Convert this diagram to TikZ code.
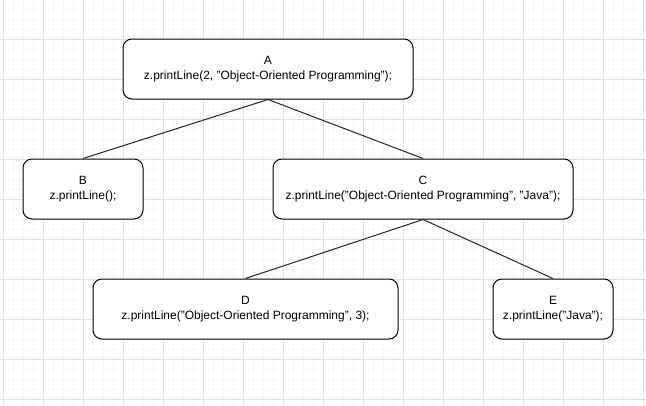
\documentclass[tikz,border=0pt]{standalone}
\usepackage{fontspec}
\setmainfont{Liberation Sans}
\usetikzlibrary{positioning}
\definecolor{GridMinor}{RGB}{246, 246, 246}
\definecolor{GridMajor}{RGB}{226, 226, 226}

\begin{document}
\begin{tikzpicture}[
    x=1pt, y=-1pt,
    % Define styles for the elements
    call box/.style={
        rectangle,
        rounded corners=9pt,
        draw=black,
        fill=white,
        line width=1pt,
        inner sep=0pt,
        align=center,
        minimum width=#1,
        minimum height=60pt,
        font=\fontsize{12}{15.6}\selectfont
    },
    tree edge/.style={
        line width=1pt,
        color=black!85
    }
]

    % --- Canvas and grid ---
    \useasboundingbox (0,0) rectangle (646,405);
    \fill[white] (0,0) rectangle (646,405);
    \foreach \x in {13,23,...,643} \draw[GridMinor, line width=0.8pt] (\x,0) -- (\x,405);
    \foreach \y in {9,19,...,399} \draw[GridMinor, line width=0.8pt] (0,\y) -- (646,\y);
    \foreach \x in {3,43,...,643} \draw[GridMajor, line width=1pt] (\x,0) -- (\x,405);
    \foreach \y in {39,79,...,399} \draw[GridMajor, line width=1pt] (0,\y) -- (646,\y);

    % --- Calls ---
    % Root
    \node[call box=290pt] (callA) at (268,69) {A\\z.printLine(2, "Object-Oriented Programming");};
    % Second level
    \node[call box=120pt] (callB) at (83,189) {B\\z.printLine();};
    \node[call box=300pt] (callC) at (423,189) {C\\z.printLine("Object-Oriented Programming", "Java");};
    % Third level
    \node[call box=305pt] (callD) at (245.5,309) {D\\z.printLine("Object-Oriented Programming", 3);};
    \node[call box=120pt] (callE) at (553,309) {E\\z.printLine("Java");};

    % --- Connections ---
    \draw[tree edge] (callA.south) -- (callB.north);
    \draw[tree edge] (callA.south) -- (callC.north);
    \draw[tree edge] (callC.south) -- (callD.north);
    \draw[tree edge] (callC.south) -- (callE.north);

\end{tikzpicture}
\end{document}
